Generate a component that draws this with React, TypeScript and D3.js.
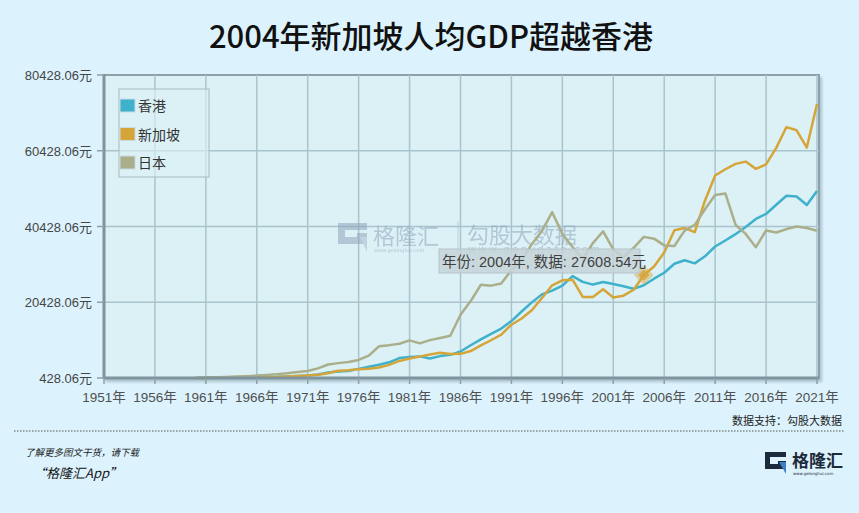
import * as d3 from 'd3';

const years = d3.range(1960, 2022);

// 人均GDP（元），1960-2021
const hongKong = [
  429, 446, 498, 567, 603, 678, 691, 708, 735, 834,
  960, 1101, 1378, 1888, 2134, 2253, 2844, 3404, 3924, 4569,
  5700, 5991, 6134, 5595, 6208, 6543, 7435, 9071, 10610, 12098,
  13486, 15466, 17976, 20396, 22503, 23497, 24818, 27330, 25809, 25092,
  25757, 25230, 24666, 23977, 24928, 26650, 28224, 30594, 31516, 30697,
  32550, 35142, 36731, 38404, 40315, 42432, 43734, 46166, 48538, 48356,
  46109, 49800,
];

const singapore = [
  428.06, 449, 472, 511, 485, 517, 567, 626, 708, 812,
  925, 1071, 1264, 1685, 2341, 2490, 2770, 2846, 3194, 3901,
  4929, 5597, 6078, 6632, 7122, 6785, 6799, 7539, 9018, 10394,
  11862, 14502, 16136, 18302, 21553, 24915, 26233, 26376, 21829, 21796,
  23853, 21700, 22160, 23730, 27608.54, 29870, 33580, 39433, 40007, 38927,
  47237, 53891, 55546, 56967, 57563, 55647, 56828, 61176, 66679, 65831,
  61274, 72794,
];

const japan = [
  479, 563, 634, 717, 835, 919, 1058, 1228, 1450, 1669,
  2037, 2272, 2967, 3997, 4354, 4659, 5197, 6335, 8821, 9105,
  9465, 10361, 9578, 10425, 10984, 11585, 17112, 20745, 25051, 24813,
  25359, 28925, 31465, 35766, 39269, 44198, 38437, 35022, 31903, 36027,
  39169, 34406, 32289, 34808, 37689, 37218, 35434, 35275, 39339, 40855,
  44968, 48760, 49145, 40898, 38475, 34961, 39375, 38834, 39751, 40416,
  40040, 39313,
];

const yTicks = [428.06, 20428.06, 40428.06, 60428.06, 80428.06];
const xTicks = d3.range(1951, 2022, 5);

const seriesNames = ['香港', '新加坡', '日本'];
const seriesValues = [hongKong, singapore, japan];
const colors = ['#3fb1cc', '#d6a53a', '#abae8a'];

const tipYear = 2004;
const tipSeries = 1;

const W = 859;
const H = 513;
const plot = { left: 104, right: 817, top: 75, bottom: 378 };
const cjk = '"Liberation Sans", "Noto Sans CJK SC", sans-serif';

export default function App() {
  const x = d3.scaleLinear().domain([1951, 2021]).range([plot.left, plot.right]);
  const y = d3.scaleLinear().domain([428.06, 80428.06]).range([plot.bottom, plot.top]);

  const line = d3.line<number>()
    .x((_, i) => x(years[i]))
    .y(d => y(d));

  const tipIdx = years.indexOf(tipYear);
  const tipVal = seriesValues[tipSeries][tipIdx];
  const tx = x(tipYear);
  const ty = y(tipVal);

  return (
    <div style={{ position: 'absolute', left: 0, top: 0 }}>
      <svg width={W} height={H} style={{ display: 'block', background: '#dcf3fd' }}>
        <defs>
          <filter id="frameShadow" x="-5%" y="-5%" width="110%" height="115%">
            <feDropShadow dx="2" dy="3" stdDeviation="1.5" floodColor="#6f8790" floodOpacity="0.45" />
          </filter>
        </defs>

        <text x={431} y={48} textAnchor="middle" fontSize={31} fontWeight={500}
          fontFamily='"Noto Sans CJK SC", sans-serif' fill="#111">
          2004年新加坡人均GDP超越香港
        </text>

        {/* plot area */}
        <rect x={plot.left} y={plot.top} width={plot.right - plot.left + 2} height={plot.bottom - plot.top}
          fill="#dbf1f6" stroke="#8ea1a9" strokeWidth={2} filter="url(#frameShadow)" />

        {/* grid */}
        {yTicks.slice(1, -1).map(t => (
          <line key={'gy' + t} x1={plot.left} x2={plot.right + 2} y1={y(t)} y2={y(t)}
            stroke="#a9c4cc" strokeWidth={1.5} />
        ))}
        {xTicks.slice(1).map(t => (
          <line key={'gx' + t} x1={x(t)} x2={x(t)} y1={plot.top} y2={plot.bottom}
            stroke="#a9c4cc" strokeWidth={1.5} />
        ))}

        {/* watermark */}
        <g opacity={0.55}>
          <path d="M338,223 H367 V230 H345 V237 H357 V233 H367 V244 H338 Z" fill="#8fa6bd" />
          <path d="M360,237 H367 V252 Z" fill="#a9bdd0" />
          <text x={373} y={244} fontSize={22} fontFamily='"Noto Sans CJK SC", sans-serif' fill="#8fa6bd">格隆汇</text>
          <text x={374} y={252} fontSize={5} fontFamily="DejaVu Sans" fill="#8fa6bd">www.gelonghui.com</text>
          <line x1={458} x2={458} y1={221} y2={251} stroke="#9fb3c5" strokeWidth={1} />
          <text x={467} y={243} fontSize={22} fontFamily='"Noto Sans CJK SC", sans-serif' fill="#8fa6bd">勾股大数据</text>
          <text x={468} y={253} fontSize={10} letterSpacing={2.2} fontFamily="DejaVu Sans" fill="#8fa6bd">www.gogudata.com</text>
        </g>

        {/* series */}
        {seriesValues.map((vals, i) => (
          <path key={seriesNames[i]} d={line(vals) || ''} fill="none" stroke={colors[i]}
            strokeWidth={2.5} strokeLinejoin="round" />
        ))}

        {/* highlighted point */}
        <rect x={tx - 7} y={ty - 7} width={14} height={14} fill={colors[tipSeries]} opacity={0.45}
          transform={`rotate(45 ${tx} ${ty})`} />
        <rect x={tx - 4} y={ty - 4} width={8} height={8} fill={colors[tipSeries]} opacity={0.8}
          transform={`rotate(45 ${tx} ${ty})`} />

        {/* axes */}
        <line x1={plot.left} x2={plot.left} y1={plot.top - 1} y2={plot.bottom + 1} stroke="#7f949c" strokeWidth={3} />
        <line x1={plot.left} x2={plot.right + 2} y1={plot.bottom} y2={plot.bottom} stroke="#7f949c" strokeWidth={3} />
        {yTicks.map(t => (
          <g key={'yt' + t}>
            <line x1={plot.left - 7} x2={plot.left} y1={y(t)} y2={y(t)} stroke="#8ea1a9" strokeWidth={1.5} />
            <text x={plot.left - 12} y={y(t) + 5} textAnchor="end" fontSize={13} fontFamily={cjk} fill="#454545">
              {`${t.toFixed(2)}元`}
            </text>
          </g>
        ))}
        {xTicks.map(t => (
          <g key={'xt' + t}>
            <line x1={x(t)} x2={x(t)} y1={plot.bottom} y2={plot.bottom + 6} stroke="#8ea1a9" strokeWidth={1.5} />
            <text x={x(t)} y={plot.bottom + 24} textAnchor="middle" fontSize={13.5} fontFamily={cjk} fill="#505050">
              {`${t}年`}
            </text>
          </g>
        ))}

        {/* legend */}
        <rect x={119} y={89} width={90} height={88} fill="#dbf1f6" fillOpacity={0.6} stroke="#a7b8c0" strokeWidth={1} />
        {seriesNames.map((name, i) => (
          <g key={'lg' + name} transform={`translate(120,${99 + i * 28.5})`}>
            <rect x={0} y={0} width={15} height={13} fill={colors[i]} stroke="#c9dbe3" strokeWidth={1} />
            <text x={18} y={12} fontSize={14} fontFamily={cjk} fill="#333">{name}</text>
          </g>
        ))}

        {/* tooltip */}
        <rect x={439} y={249} width={201} height={24} fill="#c6d3d8" fillOpacity={0.85} stroke="#b6c3c8" />
        <text x={442} y={267} fontSize={14.5} fontFamily={cjk} fill="#3f3f3f">
          {`年份: ${tipYear}年, 数据: ${tipVal.toFixed(2)}元`}
        </text>

        {/* source + footer */}
        <text x={842} y={425} textAnchor="end" fontSize={11} fontFamily='"Noto Sans CJK SC", sans-serif' fill="#222">
          数据支持：勾股大数据
        </text>
        <line x1={14} x2={845} y1={431} y2={431} stroke="#555" strokeWidth={1} strokeDasharray="1.5,1.5" />
        <text x={25} y={456} fontSize={9.5} fontStyle="italic" fontFamily='"Noto Sans CJK SC", sans-serif' fill="#222">
          了解更多图文干货，请下载
        </text>
        <text x={33} y={478} fontSize={13} fontStyle="italic" fontFamily='"Noto Sans CJK SC", sans-serif' fill="#111">
          “格隆汇App”
        </text>

        {/* bottom logo */}
        <path d="M765,452 H786 V457 H770 V464 H778 V461 H786 V469 H765 Z" fill="#1d2a3c" />
        <path d="M779,462 H786 V474 Z" fill="#3d7fc2" />
        <text x={792} y={467} fontSize={17} fontWeight={700} fontFamily='"Noto Sans CJK SC", sans-serif' fill="#1d2a3c">
          格隆汇
        </text>
        <text x={793} y={475} fontSize={4} fontFamily="DejaVu Sans" fill="#1d2a3c">www.gelonghui.com</text>
      </svg>
    </div>
  );
}
